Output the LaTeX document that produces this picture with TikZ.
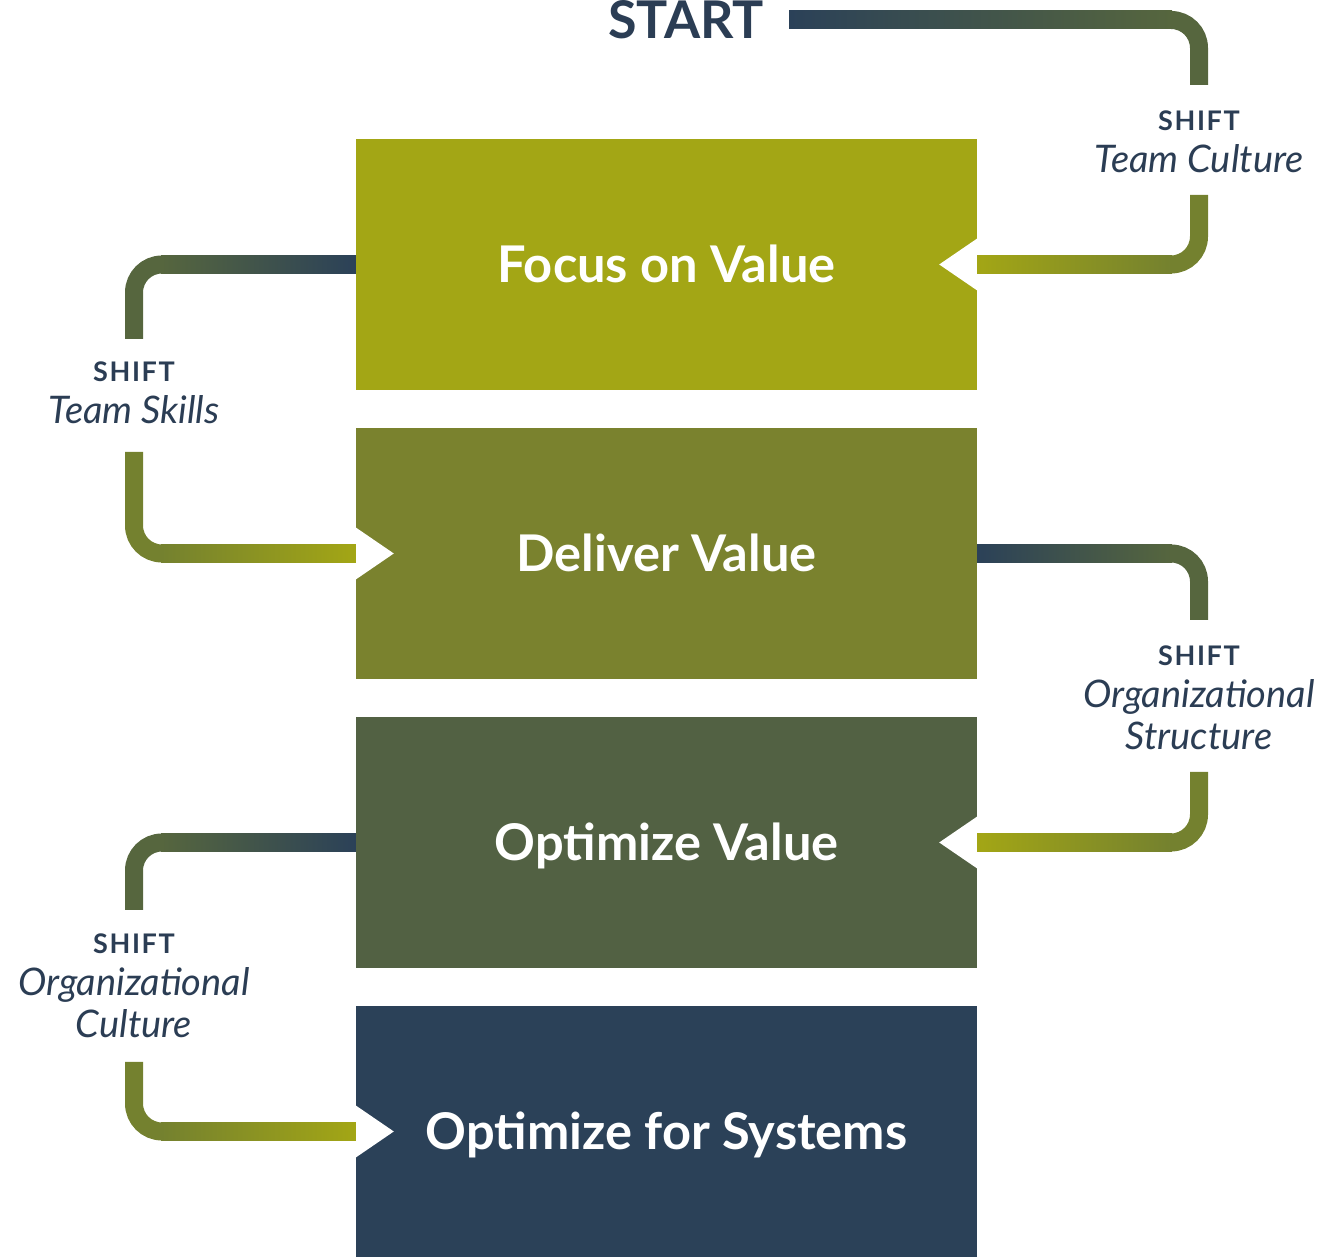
\documentclass[tikz,border=0pt]{standalone}
\usepackage{fontspec}
\setmainfont{Lato}
\usetikzlibrary{calc}
\definecolor{ink}{HTML}{2B3D54}
\definecolor{navy}{HTML}{2B4158}
\definecolor{lime}{HTML}{A3A615}
\definecolor{olive}{HTML}{7A822E}
\definecolor{moss}{HTML}{526143}
\definecolor{mossdark}{HTML}{56663E}
\definecolor{olivemid}{HTML}{74812F}
\newcommand\shiftcap{\upshape\bfseries\fontsize{27}{42}\selectfont\addfontfeature{LetterSpace=6}}

\begin{document}
\begin{tikzpicture}[x=1pt,y=1pt,
  box/.style={minimum width=621pt,minimum height=251pt,inner sep=0pt,text=white,
    font=\fontsize{50.6}{60}\selectfont\bfseries,text height=36pt,text depth=0pt},
  shiftlab/.style={anchor=north,align=center,inner sep=0pt,text=ink,
    font=\fontsize{38}{42}\selectfont\itshape}]
\useasboundingbox (0,0) rectangle (1334,1257);
\def\rad{28}
% the four stages
\foreach \n/\y/\col/\txt in {focus/992.5/lime/Focus on Value, deliver/703.5/olive/Deliver Value,
  optimize/414.5/moss/Optimize Value, systems/125.5/navy/Optimize for Systems}{
  \node[box,fill=\col] (\n) at (666.5,\y) {\txt};
}
\foreach \n/\s in {focus.east/-1, deliver.west/1, optimize.east/-1, systems.west/1}
  \fill[white] ([yshift=26pt]\n) -- ++({38*\s},-26) -- ++({-38*\s},-26) -- cycle;

\node[font=\fontsize{52}{56}\selectfont\bfseries,text=ink,inner sep=0pt] (start) at (686,1237) {START};
\node[shiftlab] (s1) at (1199,1146) {{\shiftcap SHIFT}\\Team Culture};
\node[shiftlab] (s2) at (134,895) {{\shiftcap SHIFT}\\Team Skills};
\node[shiftlab] (s3) at (1199,611) {{\shiftcap SHIFT}\\Organizational\\Structure};
\node[shiftlab] (s4) at (134,323) {{\shiftcap SHIFT}\\Organizational\\Culture};

\coordinate (go) at ([xshift=25pt]start.east);
\coordinate (s1in) at (1199,1172);  \coordinate (s1out) at (1199,1062);
\coordinate (s2in) at (134,918);    \coordinate (s2out) at (134,805);
\coordinate (s3in) at (1199,637);   \coordinate (s3out) at (1199,485);
\coordinate (s4in) at (134,347);    \coordinate (s4out) at (134,195);

% shifts between stages
\foreach \h/\v/\lc/\rc/\cc in {go/s1in/navy/mossdark/mossdark, focus.east/s1out/lime/olivemid/olivemid,
  focus.west/s2in/mossdark/navy/mossdark, deliver.west/s2out/olivemid/lime/olivemid,
  deliver.east/s3in/navy/mossdark/mossdark, optimize.east/s3out/lime/olivemid/olivemid,
  optimize.west/s4in/mossdark/navy/mossdark, systems.west/s4out/olivemid/lime/olivemid}{
  \shade[left color=\lc,right color=\rc] let \p1=(\h),\p2=(\v) in
    ({\x1},{\y1-9}) rectangle ({\x2+(\rad-1)*sign(\x1-\x2)},{\y1+9});
  \draw[\cc,line width=18pt,rounded corners=\rad pt] let \p1=(\h),\p2=(\v) in
    ({\x2+\rad*sign(\x1-\x2)},{\y1}) -- (\x2,\y1) -- (\x2,\y2);
}
\end{tikzpicture}
\end{document}
